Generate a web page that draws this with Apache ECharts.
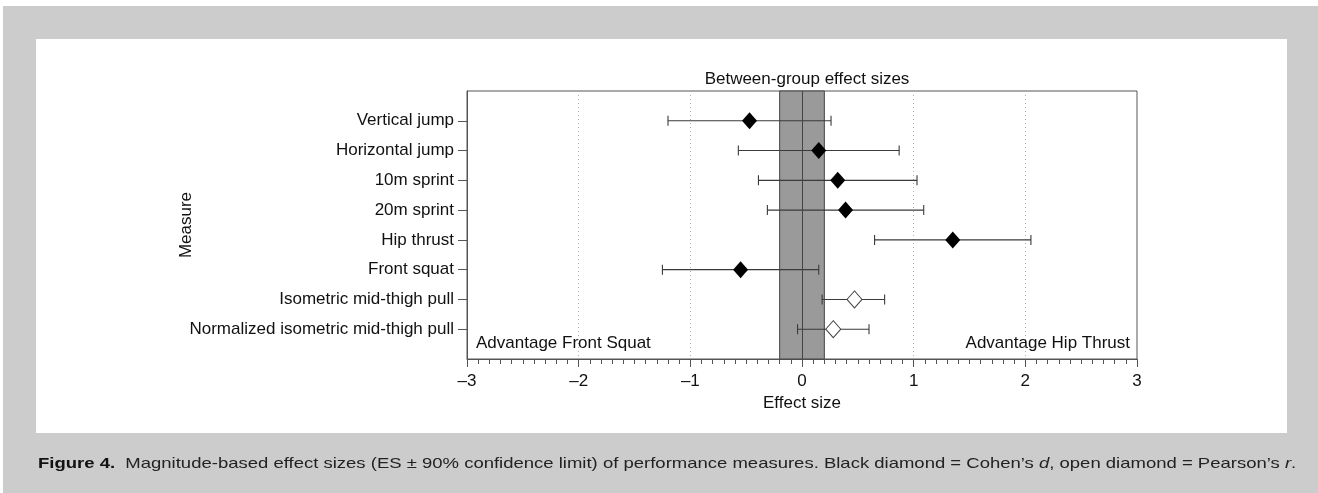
<!DOCTYPE html>
<html>
<head>
<meta charset="utf-8">
<script src="https://cdn.jsdelivr.net/npm/echarts@6/dist/echarts.min.js"></script>
<style>
html,body{margin:0;padding:0;background:#ffffff;}
#chart{width:1318px;height:493px;}
</style>
</head>
<body>
<div id="chart"></div>
<script>
const categories = ['Vertical jump', 'Horizontal jump', '10m sprint', '20m sprint', 'Hip thrust', 'Front squat', 'Isometric mid-thigh pull', 'Normalized isometric mid-thigh pull'];
const effectSize = [-0.47, 0.15, 0.32, 0.39, 1.35, -0.55, 0.47, 0.28];
const lowerCL = [-1.20, -0.57, -0.39, -0.31, 0.65, -1.25, 0.18, -0.04];
const upperCL = [0.26, 0.87, 1.03, 1.09, 2.05, 0.15, 0.74, 0.60];
const isPearson = [false, false, false, false, false, false, true, true];
const xTickValues = [-3, -2, -1, 0, 1, 2, 3];
const trivialBand = [-0.2, 0.2];

const FONT = '"Liberation Sans", Arial, sans-serif';
const rowPos = categories.map((c, i) => i + 1);

const errData = categories.map((c, i) => [lowerCL[i], upperCL[i], rowPos[i]]);
const cohenData = [], pearsonData = [];
categories.forEach((c, i) => {
  (isPearson[i] ? pearsonData : cohenData).push([effectSize[i], rowPos[i]]);
});

const chart = echarts.init(document.getElementById('chart'), null, {renderer: 'canvas'});
chart.setOption({
  backgroundColor: '#ffffff',
  animation: false,
  title: {
    text: 'Between-group effect sizes',
    left: 802, top: 66, textAlign: 'center',
    textStyle: {fontFamily: FONT, fontSize: 17, fontWeight: 'normal', color: '#111'}
  },
  graphic: [
    {type: 'rect', z: -20, silent: true, shape: {x: 3, y: 6, width: 1315, height: 487}, style: {fill: '#cccccc'}},
    {type: 'rect', z: -19, silent: true, shape: {x: 36, y: 39, width: 1251, height: 394}, style: {fill: '#ffffff'}},
    {type: 'text', left: 476, top: 335, z: 10, style: {text: 'Advantage Front Squat', font: '17px ' + FONT, fill: '#111'}},
    {type: 'text', right: 1318 - 1130, top: 335, z: 10, style: {text: 'Advantage Hip Thrust', font: '17px ' + FONT, fill: '#111', textAlign: 'right'}},
    {type: 'text', x: 38, y: 456, scaleX: 1.233, scaleY: 1, z: 10, style: {
      text: '{b|Figure 4.}  Magnitude-based effect sizes (ES \u00b1 90% confidence limit) of performance measures. Black diamond = Cohen\u2019s {i|d}, open diamond = Pearson\u2019s {i|r}.',
      font: '15px ' + FONT, fill: '#222',
      rich: {
        b: {fontFamily: FONT, fontSize: 15, fontWeight: 'bold', fill: '#111'},
        i: {fontFamily: FONT, fontSize: 15, fontStyle: 'italic', fill: '#222'}
      }
    }}
  ],
  grid: {
    left: 467, top: 91, width: 670, height: 268,
    show: true, borderColor: '#555', borderWidth: 1, backgroundColor: 'transparent'
  },
  xAxis: {
    type: 'value', min: -3, max: 3, interval: 1, position: 'bottom',
    name: 'Effect size', nameLocation: 'middle', nameGap: 33,
    nameTextStyle: {fontFamily: FONT, fontSize: 17, color: '#111'},
    axisLine: {show: true, onZero: false, lineStyle: {color: '#555', width: 1}},
    axisTick: {show: true, inside: false, length: 8, lineStyle: {color: '#555'}},
    minorTick: {show: true, splitNumber: 10, length: 5, lineStyle: {color: '#555'}},
    axisLabel: {
      fontFamily: FONT, fontSize: 17, color: '#111', margin: 14,
      formatter: v => (v < 0 ? '\u2013' + Math.abs(v) : String(v))
    },
    splitLine: {show: true, lineStyle: {color: '#b0b0b0', type: [1, 3], width: 1}}
  },
  yAxis: {
    type: 'value', min: 0, max: 9, inverse: true,
    name: 'Measure', nameLocation: 'middle', nameGap: 272, nameRotate: 90, nameMoveOverlap: false,
    nameTextStyle: {fontFamily: FONT, fontSize: 17, color: '#111'},
    axisLine: {show: true, onZero: false, lineStyle: {color: '#555'}},
    axisTick: {show: true, length: 9, customValues: rowPos, lineStyle: {color: '#555'}},
    axisLabel: {
      customValues: rowPos, fontFamily: FONT, fontSize: 17, color: '#111', margin: 13,
      formatter: v => categories[Math.round(v) - 1] || ''
    },
    splitLine: {show: false}
  },
  series: [
    {
      type: 'custom', name: 'CL', z: 3,
      data: errData,
      encode: {x: [0, 1], y: 2},
      renderItem: function (params, api) {
        const lo = api.coord([api.value(0), api.value(2)]);
        const hi = api.coord([api.value(1), api.value(2)]);
        const h = 5;
        const st = {stroke: '#3a3a3a', lineWidth: 1.1};
        return {type: 'group', children: [
          {type: 'line', shape: {x1: lo[0], y1: lo[1], x2: hi[0], y2: hi[1]}, style: st},
          {type: 'line', shape: {x1: lo[0], y1: lo[1] - h, x2: lo[0], y2: lo[1] + h}, style: st},
          {type: 'line', shape: {x1: hi[0], y1: hi[1] - h, x2: hi[0], y2: hi[1] + h}, style: st}
        ]};
      },
      markArea: {
        silent: true,
        itemStyle: {color: '#9a9a9a', borderColor: '#444', borderWidth: 1},
        data: [[{xAxis: trivialBand[0]}, {xAxis: trivialBand[1]}]]
      },
      markLine: {
        silent: true, symbol: 'none', label: {show: false},
        lineStyle: {color: '#444', type: 'solid', width: 1},
        data: [{xAxis: 0}]
      }
    },
    {
      type: 'scatter', name: "Cohen's d", z: 5,
      symbol: 'diamond', symbolSize: [15, 17],
      itemStyle: {color: '#000', opacity: 1},
      data: cohenData
    },
    {
      type: 'scatter', name: "Pearson's r", z: 5,
      symbol: 'diamond', symbolSize: [15, 17],
      itemStyle: {color: '#fff', borderColor: '#444', borderWidth: 1, opacity: 1},
      data: pearsonData
    }
  ]
});
</script>
</body>
</html>
